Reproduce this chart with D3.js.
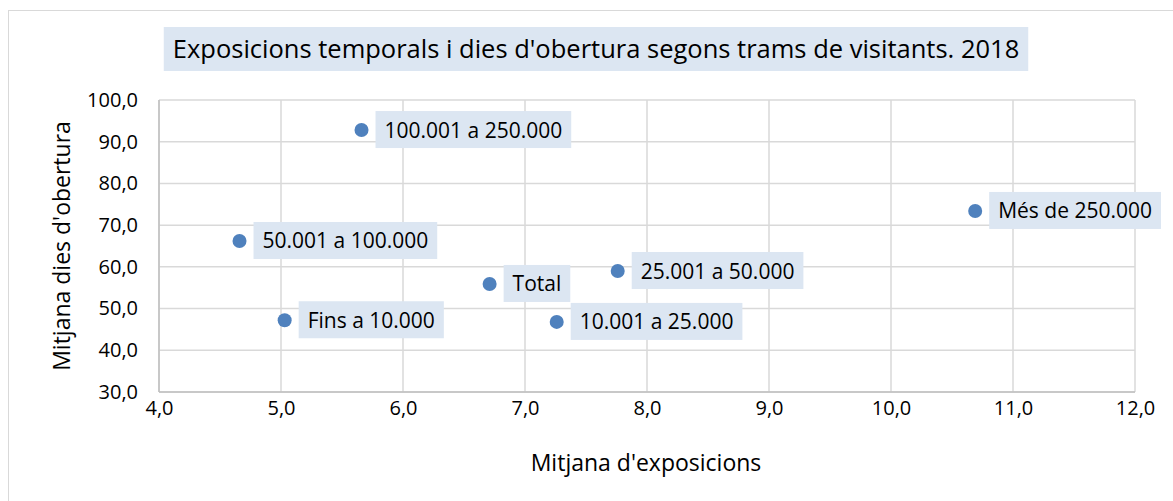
<!DOCTYPE html>
<html>
<head>
<meta charset="utf-8">
<script src="https://cdn.jsdelivr.net/npm/d3@7"></script>
<style>
  body { margin: 0; background: #fff; }
  text { font-family: "Open Sans", "Noto Sans", sans-serif; fill: #000; }
</style>
</head>
<body>
<script>
// data
const labels = ["Fins a 10.000", "10.001 a 25.000", "25.001 a 50.000", "50.001 a 100.000", "100.001 a 250.000", "Més de 250.000", "Total"];
const exposicions = [5.03, 7.26, 7.76, 4.66, 5.66, 10.69, 6.71];
const diesObertura = [47.2, 46.8, 59.0, 66.2, 92.8, 73.4, 55.9];
const xTicks = [4, 5, 6, 7, 8, 9, 10, 11, 12];
const yTicks = [30, 40, 50, 60, 70, 80, 90, 100];

const W = 1173, H = 501;
const plot = {left: 159, right: 1135, top: 100, bottom: 392};
const labelBg = "#dce6f2";
const fmt = d => d3.format(".1f")(d).replace(".", ",");

const svg = d3.select("body").append("svg")
    .attr("width", W)
    .attr("height", H);

// chart border
svg.append("rect")
    .attr("x", 8.5).attr("y", 10.5)
    .attr("width", W + 10).attr("height", H + 10)
    .attr("fill", "#fff")
    .attr("stroke", "#d9d9d9");

const x = d3.scaleLinear().domain([4, 12]).range([plot.left, plot.right]);
const y = d3.scaleLinear().domain([30, 100]).range([plot.bottom, plot.top]);

// grid
svg.append("g")
    .selectAll("line")
    .data(xTicks)
    .enter()
    .append("line")
    .attr("x1", d => x(d)).attr("x2", d => x(d))
    .attr("y1", plot.top).attr("y2", plot.bottom)
    .attr("stroke", "#d9d9d9").attr("stroke-width", 1.5);

svg.append("g")
    .selectAll("line")
    .data(yTicks)
    .enter()
    .append("line")
    .attr("x1", plot.left).attr("x2", plot.right)
    .attr("y1", d => y(d)).attr("y2", d => y(d))
    .attr("stroke", "#d9d9d9").attr("stroke-width", 1.5);

// axis lines
svg.append("line")
    .attr("x1", plot.left).attr("x2", plot.left)
    .attr("y1", plot.top).attr("y2", plot.bottom)
    .attr("stroke", "#bfbfbf").attr("stroke-width", 1.5);
svg.append("line")
    .attr("x1", plot.left).attr("x2", plot.right)
    .attr("y1", plot.bottom).attr("y2", plot.bottom)
    .attr("stroke", "#bfbfbf").attr("stroke-width", 1.5);

// tick labels
const xAxis = d3.axisBottom(x).tickValues(xTicks).tickFormat(fmt).tickSize(0).tickPadding(9);
svg.append("g")
    .attr("transform", "translate(0," + plot.bottom + ")")
    .call(xAxis)
    .call(g => g.select(".domain").remove())
    .selectAll("text")
    .style("font-size", "20px")
    .style("font-family", "'Open Sans', sans-serif")
    .attr("fill", "#000");

const yAxis = d3.axisLeft(y).tickValues(yTicks).tickFormat(fmt).tickSize(0).tickPadding(21);
svg.append("g")
    .attr("transform", "translate(" + plot.left + ",0)")
    .call(yAxis)
    .call(g => g.select(".domain").remove())
    .selectAll("text")
    .style("font-size", "20px")
    .style("font-family", "'Open Sans', sans-serif")
    .attr("fill", "#000");

// axis titles
svg.append("text")
    .attr("x", 646)
    .attr("y", 471)
    .attr("text-anchor", "middle")
    .style("font-size", "23px")
    .text("Mitjana d'exposicions");

svg.append("text")
    .attr("transform", "translate(70," + 246 + ") rotate(-90)")
    .attr("text-anchor", "middle")
    .style("font-size", "23px")
    .text("Mitjana dies d'obertura");

// title
const titleG = svg.append("g");
const titleText = titleG.append("text")
    .attr("x", 596)
    .attr("y", 58)
    .attr("text-anchor", "middle")
    .style("font-size", "25.5px")
    .text("Exposicions temporals i dies d'obertura segons trams de visitants. 2018");
const tb = titleText.node().getBBox();
titleG.insert("rect", "text")
    .attr("x", tb.x - 9).attr("y", 27)
    .attr("width", tb.width + 18).attr("height", 44)
    .attr("fill", labelBg);

// points + labels
const pts = labels.map((l, i) => ({label: l, x: exposicions[i], y: diesObertura[i]}));

const pg = svg.append("g")
    .selectAll("g")
    .data(pts)
    .enter()
    .append("g");

pg.append("circle")
    .attr("cx", d => x(d.x))
    .attr("cy", d => y(d.y))
    .attr("r", 7)
    .attr("fill", "#4f81bd");

pg.append("text")
    .attr("x", d => x(d.x) + 23)
    .attr("y", d => y(d.y) + 7.5)
    .style("font-size", "21px")
    .text(d => d.label);

pg.each(function() {
    const g = d3.select(this);
    const b = g.select("text").node().getBBox();
    g.insert("rect", "text")
        .attr("x", b.x - 9)
        .attr("y", b.y + b.height / 2 - 18.5)
        .attr("width", b.width + 18)
        .attr("height", 37)
        .attr("fill", labelBg);
});
</script>
</body>
</html>
